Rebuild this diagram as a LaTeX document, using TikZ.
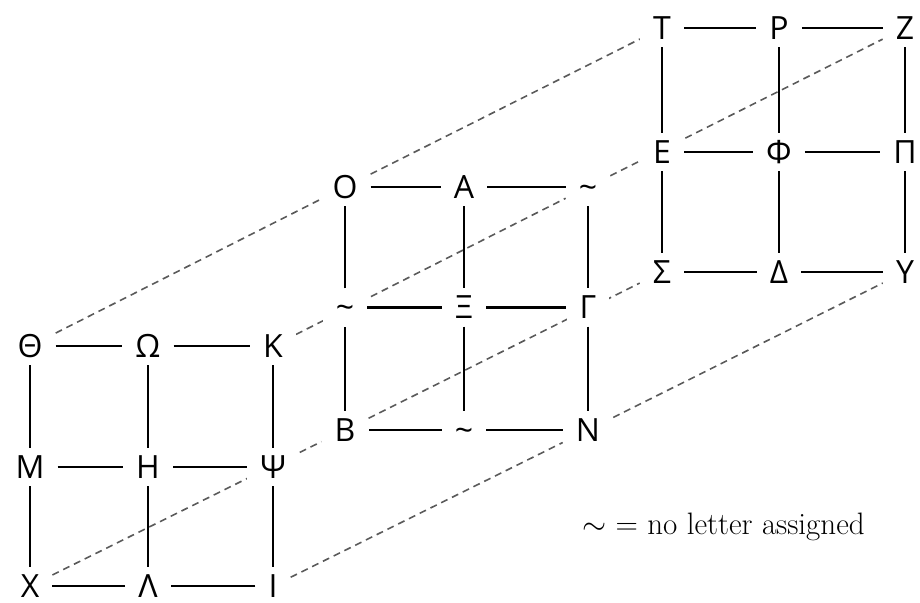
\RequirePackage{fix-cm}
\documentclass[tikz,border=0pt]{standalone}
\usepackage{fontspec}
\usetikzlibrary{backgrounds}
\newfontfamily\greekfont{Open Sans}
\definecolor{linkgray}{HTML}{5A5A5A}

\begin{document}
\begin{tikzpicture}[x=1pt, y=1pt,
          letter/.style={font=\greekfont\fontsize{32}{38}\selectfont, fill=white, inner xsep=13pt, inner ysep=7.5pt, text height=22.8pt, text depth=0pt},
          rim/.style={line width=1.6pt},
          spine/.style={line width=2.8pt},
          link/.style={linkgray, dash pattern=on 7pt off 5pt, line width=1.6pt}]
        \useasboundingbox (0,0) rectangle (920,602);
        % front grid
        \node[letter] (theta) at (30,256) {Θ};
        \node[letter] (omega) at (148,256) {Ω};
        \node[letter] (kappa) at (273,256) {Κ};
        \node[letter] (mu) at (30,135) {Μ};
        \node[letter] (eta) at (148,135) {Η};
        \node[letter] (psi) at (273,135) {Ψ};
        \node[letter] (chi) at (30,16) {Χ};
        \node[letter] (lambda) at (148,16) {Λ};
        \node[letter] (iota) at (273,16) {Ι};
        % middle grid
        \node[letter] (omicron) at (345,415) {Ο};
        \node[letter] (alpha) at (464,415) {Α};
        \node[letter] (blanktr) at (588,415) {\textasciitilde};
        \node[letter] (blankml) at (345,294.5) {\textasciitilde};
        \node[letter] (xi) at (464,294.5) {Ξ};
        \node[letter] (gamma) at (588,294.5) {Γ};
        \node[letter] (beta) at (345,172) {Β};
        \node[letter] (blankbm) at (464,172) {\textasciitilde};
        \node[letter] (nu) at (588,172) {Ν};
        % back grid
        \node[letter] (tau) at (662,574) {Τ};
        \node[letter] (rho) at (779,574) {Ρ};
        \node[letter] (zeta) at (905,574) {Ζ};
        \node[letter] (epsilon) at (662,450) {Ε};
        \node[letter] (phi) at (779,450) {Φ};
        \node[letter] (pi) at (905,450) {Π};
        \node[letter] (sigma) at (662,330) {Σ};
        \node[letter] (delta) at (779,330) {Δ};
        \node[letter] (upsilon) at (905,330) {Υ};
        \node[anchor=base west, inner sep=0pt, font=\fontsize{31}{36}\selectfont] (legend) at (582,67) {$\sim$ = no letter assigned};
        \draw[rim] (theta) -- (omega) -- (kappa) -- (psi) -- (iota) -- (lambda) -- (chi) -- (mu) -- (theta);
        \draw[spine] (mu) -- (eta) -- (psi) (omega) -- (eta) -- (lambda);
        \draw[rim] (omicron) -- (alpha) -- (blanktr) -- (gamma) -- (nu) -- (blankbm) -- (beta) -- (blankml) -- (omicron);
        \draw[spine] (blankml) -- (xi) -- (gamma) (alpha) -- (xi) -- (blankbm);
        \draw[rim] (tau) -- (rho) -- (zeta) -- (pi) -- (upsilon) -- (delta) -- (sigma) -- (epsilon) -- (tau);
        \draw[spine] (epsilon) -- (phi) -- (pi) (rho) -- (phi) -- (delta);
        \begin{scope}[on background layer]
          \draw[link] (theta) -- (omicron) -- (tau);
          \draw[link] (kappa) -- (blanktr) -- (zeta);
          \draw[link] (chi) -- (beta) -- (sigma);
          \draw[link] (iota) -- (nu) -- (upsilon);
        \end{scope}
      \end{tikzpicture}
\end{document}
